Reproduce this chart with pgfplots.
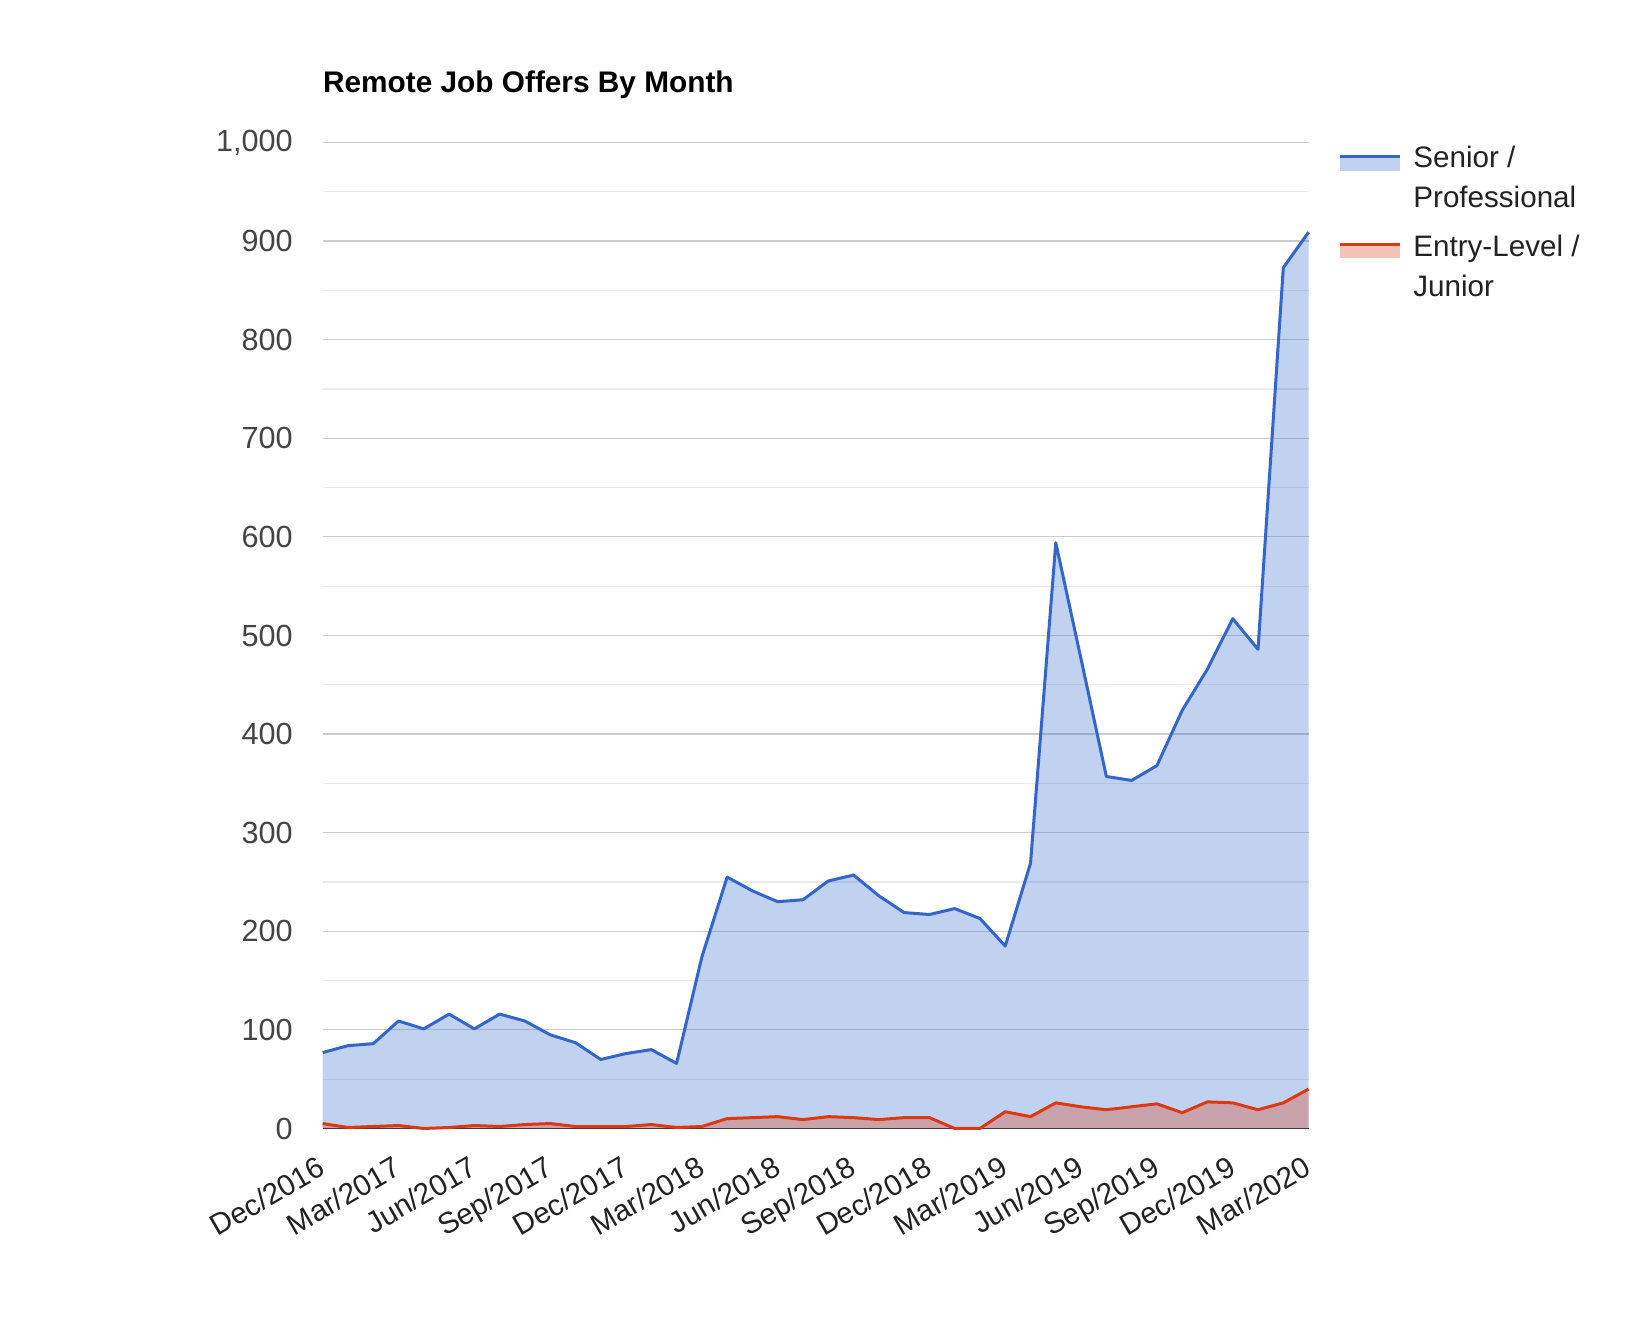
\documentclass[border=0pt]{standalone}
\usepackage{pgfplots}
\pgfplotsset{compat=1.18}
\usepackage{pgfplotstable}
\usepackage{fontspec}
\setmainfont{Liberation Sans}
\definecolor{sblue}{HTML}{3366CC}
\definecolor{sred}{HTML}{DC3912}
\definecolor{gmaj}{HTML}{CCCCCC}
\definecolor{gmin}{HTML}{EBEBEB}
\definecolor{basec}{HTML}{333333}
\definecolor{ylab}{HTML}{444444}
\definecolor{xlab}{HTML}{222222}
\newcommand\tickfont{\fontsize{15.3}{18}\selectfont}
\newcommand\xtickfont{\fontsize{14.8}{18}\selectfont}
\newcommand\legfont{\fontsize{14.8}{19.6}\selectfont}

\pgfplotstableread{
x senior junior
0 77 5
1 84 1
2 86 2
3 109 3
4 101 0
5 116 1
6 101 3
7 116 2
8 109 4
9 95 5
10 87 2
11 70 2
12 76 2
13 80 4
14 66 1
15 174 2
16 255 10
17 241 11
18 230 12
19 232 9
20 251 12
21 257 11
22 236 9
23 219 11
24 217 11
25 223 0
26 213 0
27 185 17
28 269 12
29 594 26
30 476 22
31 357 19
32 353 22
33 368 25
34 424 16
35 466 27
36 517 26
37 486 19
38 873 26
39 909 40
}\datatable

\begin{document}
\begin{tikzpicture}
\useasboundingbox (-161.35pt,-103.75pt) rectangle (661.65pt,564.25pt);
\begin{axis}[
  at={(0pt,0pt)}, anchor=south west,
  scale only axis, width=492.95pt, height=493pt,
  xmin=0, xmax=39, ymin=0, ymax=1000,
  enlargelimits=false, clip=false,
  axis x line*=bottom, axis y line*=left,
  x axis line style={basec, line width=0.8pt},
  y axis line style={draw=none},
  major tick length=0pt, minor tick length=0pt,
  tick style={draw=none},
  xtick={0,3,...,39},
  xticklabels={Dec/2016,Mar/2017,Jun/2017,Sep/2017,Dec/2017,Mar/2018,Jun/2018,Sep/2018,Dec/2018,Mar/2019,Jun/2019,Sep/2019,Dec/2019,Mar/2020},
  ytick={0,100,...,1000},
  minor ytick={50,150,...,950},
  ymajorgrids, yminorgrids,
  major grid style={gmaj, line width=0.6pt},
  minor grid style={gmin, line width=0.6pt},
  yticklabel={\pgfmathprintnumber[assume math mode=true,1000 sep={,}]{\tick}},
  yticklabel style={font=\tickfont, text=ylab, inner sep=0pt, anchor=east, xshift=-14.85pt},
  xticklabel style={font=\xtickfont, text=xlab, inner sep=0pt, yshift=-13pt, xshift=-3pt, rotate=30, anchor=north east},
  title={Remote Job Offers By Month},
  title style={at={(0,1)}, anchor=base west, yshift=19.2pt, inner sep=0pt, font=\bfseries\fontsize{14.9}{18}\selectfont, text=black},
]
\addplot[draw=none, fill=sblue, fill opacity=0.3] table[x=x,y=senior]{\datatable} \closedcycle;
\addplot[sblue, line width=1.5pt, line join=round, mark=none] table[x=x,y=senior]{\datatable};
\addplot[draw=none, fill=sred, fill opacity=0.3] table[x=x,y=junior]{\datatable} \closedcycle;
\addplot[sred, line width=1.5pt, line join=round, mark=none] table[x=x,y=junior]{\datatable};
\end{axis}
% legend
\path[fill=sblue, fill opacity=0.3, draw=none] (508.65pt,478.75pt) rectangle (538.65pt,486pt);
\draw[sblue, line width=1.5pt] (508.65pt,486pt) -- (538.65pt,486pt);
\node[anchor=base west, inner sep=0pt, font=\legfont, text=xlab] at (545.15pt,480.25pt)
  {\begin{tabular}[t]{@{}l@{}}Senior /\\Professional\end{tabular}};
\path[fill=sred, fill opacity=0.3, draw=none] (508.65pt,435.25pt) rectangle (538.65pt,442pt);
\draw[sred, line width=1.5pt] (508.65pt,442pt) -- (538.65pt,442pt);
\node[anchor=base west, inner sep=0pt, font=\legfont, text=xlab] at (545.15pt,435.75pt)
  {\begin{tabular}[t]{@{}l@{}}Entry-Level /\\Junior\end{tabular}};
\end{tikzpicture}
\end{document}
